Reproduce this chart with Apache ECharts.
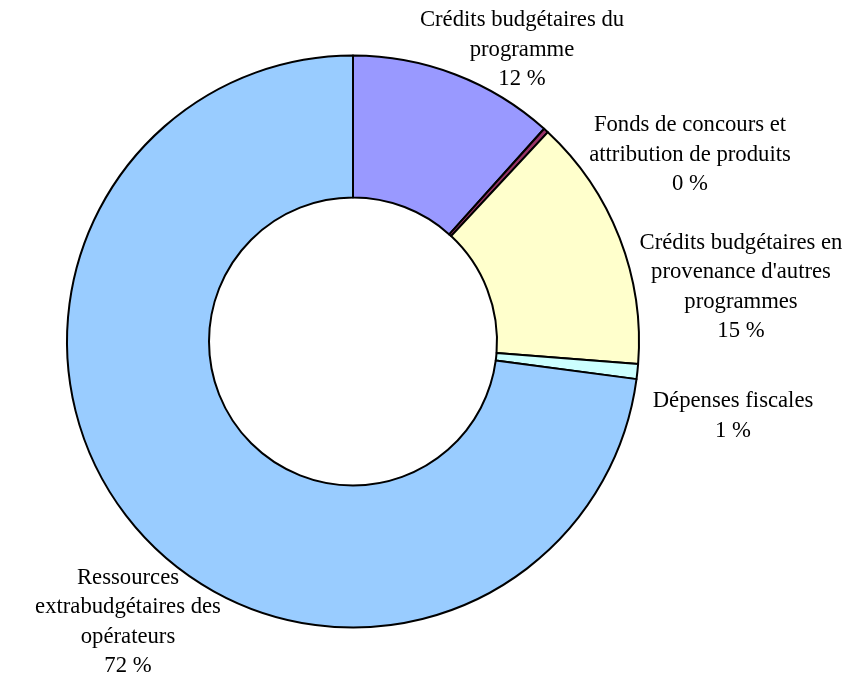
<!DOCTYPE html>
<html>
<head>
<meta charset="utf-8">
<script src="https://cdn.jsdelivr.net/npm/echarts@6/dist/echarts.min.js"></script>
<style>html,body{margin:0;padding:0;background:#fff}#c{width:848px;height:677px}</style>
</head>
<body>
<div id="c"></div>
<script>
var categories = [
  "Crédits budgétaires du\nprogramme",
  "Fonds de concours et\nattribution de produits",
  "Crédits budgétaires en\nprovenance d'autres\nprogrammes",
  "Dépenses fiscales",
  "Ressources\nextrabudgétaires des\nopérateurs"
];
var values = [11.65, 0.28, 14.33, 0.84, 72.9];
var percentLabels = ["12 %", "0 %", "15 %", "1 %", "72 %"];

var colors = ["#9999FF", "#993366", "#FFFFCC", "#CCFFFF", "#99CCFF"];
var labelPos = [[522, 50], [690, 155], [741, 287], [733, 416], [128, 622]];

var chart = echarts.init(document.getElementById('c'), null, {renderer: 'canvas'});
chart.setOption({
  animation: false,
  series: [{
    type: 'pie',
    center: [353, 341.5],
    radius: [144, 286],
    startAngle: 90,
    clockwise: true,
    avoidLabelOverlap: false,
    itemStyle: {borderColor: '#000', borderWidth: 2},
    label: {
      show: true,
      position: 'outside',
      fontFamily: 'Liberation Serif',
      fontSize: 22.7,
      lineHeight: 29.5,
      color: '#000',
      align: 'center',
      formatter: function (p) { return p.name + '\n' + percentLabels[p.dataIndex]; }
    },
    labelLine: {show: false},
    labelLayout: function (p) {
      var q = labelPos[p.dataIndex];
      return {x: q[0], y: q[1], align: 'center', verticalAlign: 'middle'};
    },
    emphasis: {disabled: true},
    data: categories.map(function (n, i) {
      return {name: n, value: values[i], itemStyle: {color: colors[i]}};
    })
  }]
});
</script>
</body>
</html>
